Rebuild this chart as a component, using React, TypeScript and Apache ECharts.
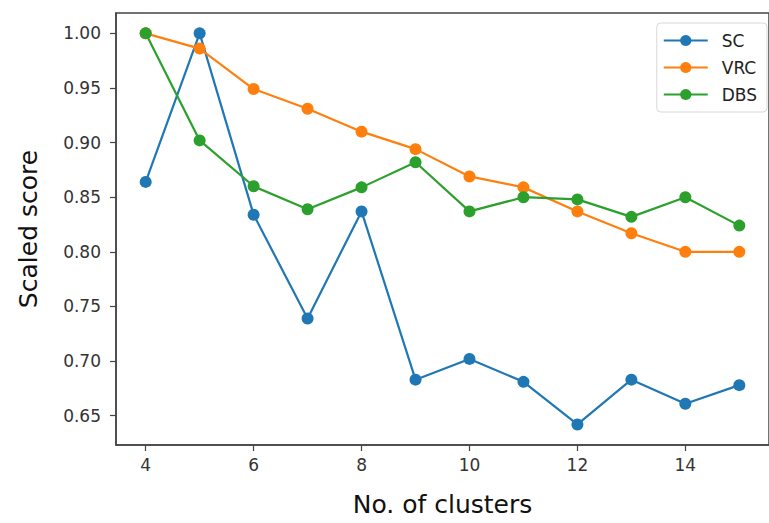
import React, { useEffect, useRef } from "react";
import * as echarts from "echarts";

const clusters = [4, 5, 6, 7, 8, 9, 10, 11, 12, 13, 14, 15];
const scValues = [0.864, 1.0, 0.834, 0.739, 0.837, 0.683, 0.702, 0.681, 0.642, 0.683, 0.661, 0.678];
const vrcValues = [1.0, 0.986, 0.949, 0.931, 0.91, 0.894, 0.869, 0.859, 0.837, 0.817, 0.8, 0.8];
const dbsValues = [1.0, 0.902, 0.86, 0.839, 0.859, 0.882, 0.837, 0.85, 0.848, 0.832, 0.85, 0.824];
const xTicks = [4, 6, 8, 10, 12, 14];
const yTicks = [0.65, 0.7, 0.75, 0.8, 0.85, 0.9, 0.95, 1.0];

const seriesDefs = [
  { name: "SC", values: scValues, color: "#1f77b4" },
  { name: "VRC", values: vrcValues, color: "#ff7f0e" },
  { name: "DBS", values: dbsValues, color: "#2ca02c" },
];

export default function App() {
  const ref = useRef<HTMLDivElement>(null);
  useEffect(() => {
    if (!ref.current) return;
    const chart = echarts.init(ref.current, null, { renderer: "svg" });
    const font = "DejaVu Sans";
    chart.setOption({
      animation: false,
      backgroundColor: "#ffffff",
      grid: {
        left: 116,
        right: -10,
        top: 13,
        bottom: 78,
        containLabel: false,
        show: true,
        borderColor: "#444",
        borderWidth: 1.5,
        backgroundColor: "transparent",
      },
      legend: {
        orient: "vertical",
        right: 2,
        top: 23,
        itemWidth: 44,
        itemHeight: 14,
        itemGap: 10,
        padding: [9, 10, 9, 6],
        backgroundColor: "rgba(255,255,255,0.8)",
        borderColor: "#d8d8d8",
        borderWidth: 1,
        borderRadius: 4,
        align: "left",
        textStyle: { fontFamily: font, fontSize: 17, color: "#222", padding: [0, 0, 0, 9] },
        data: seriesDefs.map((s) => s.name),
      },
      xAxis: {
        type: "value",
        min: 3.45,
        max: 15.55,
        name: "No. of clusters",
        nameLocation: "middle",
        nameGap: 47,
        nameTextStyle: { fontFamily: font, fontSize: 25, color: "#111" },
        axisLine: { show: true, onZero: false, lineStyle: { color: "#444", width: 1.5 } },
        axisTick: { show: true, customValues: xTicks, length: 6, lineStyle: { color: "#444", width: 1.2 } },
        axisLabel: { customValues: xTicks, fontFamily: font, fontSize: 17, color: "#333", margin: 11 },
        splitLine: { show: false },
      },
      yAxis: {
        type: "value",
        min: 0.6232,
        max: 1.0186,
        name: "Scaled score",
        nameLocation: "middle",
        nameGap: 75,
        nameTextStyle: { fontFamily: font, fontSize: 25, color: "#111" },
        axisLine: { show: true, onZero: false, lineStyle: { color: "#444", width: 1.5 } },
        axisTick: { show: true, customValues: yTicks, length: 6, lineStyle: { color: "#444", width: 1.2 } },
        axisLabel: {
          customValues: yTicks,
          fontFamily: font,
          fontSize: 17,
          color: "#333",
          margin: 15,
          formatter: (v: number) => v.toFixed(2),
        },
        splitLine: { show: false },
      },
      series: seriesDefs.map((s) => ({
        name: s.name,
        type: "line",
        data: clusters.map((c, i) => [c, s.values[i]]),
        symbol: "circle",
        symbolSize: 12,
        itemStyle: { color: s.color },
        lineStyle: { color: s.color, width: 2.2 },
      })),
    });
    return () => chart.dispose();
  }, []);
  return <div ref={ref} style={{ width: 769, height: 523, position: "absolute", left: 0, top: 0 }} />;
}
